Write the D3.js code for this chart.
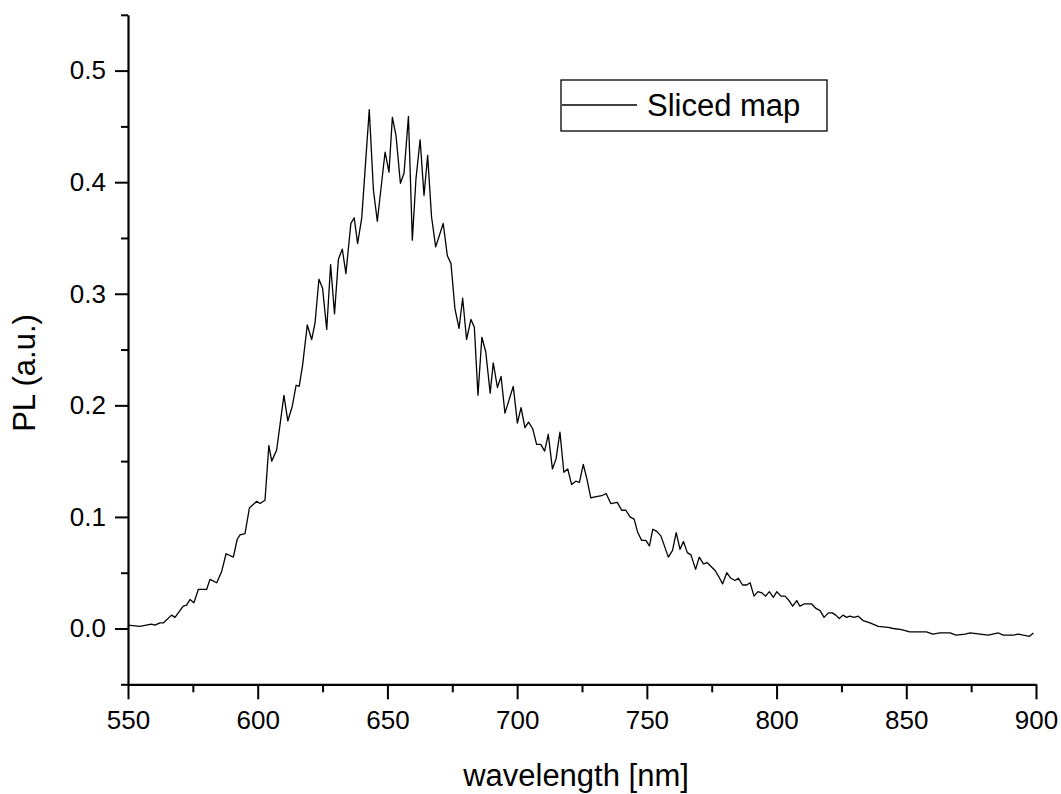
<!DOCTYPE html>
<html>
<head>
<meta charset="utf-8">
<script src="https://cdn.jsdelivr.net/npm/d3@7"></script>
<style>
  html, body { margin: 0; padding: 0; background: #fff; }
  svg { display: block; }
  text { font-family: "Liberation Sans", Arial, sans-serif; fill: #000; }
</style>
</head>
<body>
<script>
// ---- data ----
const wavelength = [
550.0,554.6,559.0,560.4,562.3,563.6,566.8,568.1,571.3,572.6,573.9,575.4,577.1,580.3,581.6,584.2,586.1,587.8,590.6,592.1,
593.2,595.1,596.8,599.6,600.9,602.8,604.3,605.4,607.3,610.1,611.6,613.3,614.8,616.0,617.3,619.1,620.8,622.1,623.6,625.0,
626.6,628.1,629.6,631.1,632.6,634.0,635.9,637.2,638.5,640.1,643.0,644.6,646.1,649.1,650.6,651.9,653.3,655.0,656.4,658.1,
659.6,661.0,662.6,664.1,665.5,667.0,668.6,671.5,673.1,674.5,676.0,677.6,679.0,680.5,682.2,683.5,684.9,686.4,687.9,689.6,
690.8,692.4,693.8,695.3,698.5,700.1,701.5,703.0,704.4,706.0,707.5,709.1,710.6,712.0,713.6,715.0,716.5,718.0,719.5,721.0,
722.6,724.0,725.5,726.8,728.4,730.0,732.6,734.3,736.1,738.6,740.3,741.9,743.5,745.1,746.5,748.0,749.6,751.0,752.3,753.8,
755.4,758.3,759.9,761.3,762.8,764.1,765.6,767.0,768.8,770.2,771.8,773.3,776.3,777.6,779.2,780.8,782.4,784.0,785.3,786.9,
788.5,789.8,791.3,792.8,794.3,795.8,797.2,798.8,800.1,801.7,803.3,804.8,806.2,807.8,809.0,810.6,813.5,815.2,816.8,818.3,
820.0,821.5,822.8,824.2,825.6,827.0,828.3,829.8,831.5,833.4,836.0,839.2,843.0,845.0,848.2,851.3,857.8,860.2,863.0,866.9,
869.2,872.7,874.6,878.4,881.6,885.5,887.4,891.3,893.2,895.1,897.5,899.0
];
const pl = [
0.003,0.002,0.004,0.003,0.005,0.005,0.012,0.010,0.020,0.021,0.026,0.023,0.035,0.035,0.044,0.041,0.051,0.067,0.064,0.080,
0.084,0.085,0.108,0.114,0.112,0.115,0.164,0.150,0.160,0.209,0.186,0.199,0.218,0.217,0.236,0.272,0.259,0.274,0.313,0.305,
0.268,0.326,0.282,0.331,0.340,0.318,0.363,0.368,0.345,0.368,0.465,0.393,0.365,0.427,0.409,0.458,0.442,0.399,0.408,0.459,
0.348,0.403,0.438,0.388,0.424,0.369,0.342,0.363,0.334,0.327,0.287,0.269,0.296,0.259,0.277,0.270,0.209,0.261,0.248,0.211,
0.238,0.216,0.226,0.193,0.217,0.184,0.198,0.180,0.185,0.179,0.165,0.165,0.159,0.174,0.143,0.152,0.176,0.140,0.143,0.129,
0.132,0.131,0.147,0.135,0.117,0.118,0.119,0.121,0.112,0.113,0.106,0.106,0.100,0.098,0.086,0.079,0.079,0.074,0.089,0.087,
0.083,0.064,0.070,0.086,0.071,0.078,0.068,0.066,0.053,0.064,0.058,0.059,0.052,0.047,0.040,0.050,0.045,0.043,0.045,0.039,
0.039,0.041,0.029,0.033,0.032,0.029,0.033,0.028,0.033,0.029,0.029,0.025,0.020,0.025,0.020,0.022,0.022,0.018,0.016,0.010,
0.014,0.014,0.012,0.009,0.012,0.010,0.011,0.010,0.011,0.007,0.005,0.002,0.001,0.000,-0.001,-0.003,-0.003,-0.005,-0.004,-0.004,
-0.006,-0.005,-0.004,-0.005,-0.006,-0.004,-0.006,-0.006,-0.005,-0.006,-0.007,-0.004
];
const xMajorTicks = [550, 600, 650, 700, 750, 800, 850, 900];
const xMinorTicks = [575, 625, 675, 725, 775, 825, 875];
const yMajorTicks = [0.0, 0.1, 0.2, 0.3, 0.4, 0.5];
const yMinorTicks = [-0.05, 0.05, 0.15, 0.25, 0.35, 0.45, 0.55];
const seriesName = "Sliced map";
const xTitle = "wavelength [nm]";
const yTitle = "PL (a.u.)";

// ---- layout ----
const W = 1061, H = 794;
const mLeft = 128, mRight = 1036, mTop = 14.8, mBottom = 684.3;

const svg = d3.select("body").append("svg").attr("width", W).attr("height", H);

const x = d3.scaleLinear().domain([550, 900]).range([mLeft, mRight]);
const y = d3.scaleLinear().domain([-0.05, 0.55]).range([mBottom, mTop]);

// data line
const line = d3.line().x((d, i) => x(wavelength[i])).y(d => y(d));
svg.append("path")
  .datum(pl)
  .attr("d", line)
  .attr("fill", "none")
  .attr("stroke", "#000")
  .attr("stroke-width", 1.3)
  .attr("stroke-linejoin", "round");

// x axis
const gx = svg.append("g").attr("transform", `translate(0,${mBottom})`);
gx.call(d3.axisBottom(x).tickValues(xMinorTicks).tickSize(8).tickSizeOuter(0).tickFormat(""));
gx.selectAll(".tick line").attr("stroke-width", 2);
gx.select(".domain").attr("stroke-width", 2.2);
const gx2 = svg.append("g").attr("transform", `translate(0,${mBottom})`);
gx2.call(d3.axisBottom(x).tickValues(xMajorTicks).tickSize(15).tickSizeOuter(0).tickPadding(11)
  .tickFormat(d3.format("d")));
gx2.selectAll(".tick line").attr("stroke-width", 2);
gx2.selectAll(".tick text").attr("font-size", 26).attr("font-family", "Liberation Sans, Arial, sans-serif");
gx2.select(".domain").remove();

// y axis
const gy = svg.append("g").attr("transform", `translate(${mLeft},0)`);
gy.call(d3.axisLeft(y).tickValues(yMinorTicks).tickSize(7).tickSizeOuter(0).tickFormat(""));
gy.selectAll(".tick line").attr("stroke-width", 2);
gy.select(".domain").attr("stroke-width", 2.2);
const gy2 = svg.append("g").attr("transform", `translate(${mLeft},0)`);
gy2.call(d3.axisLeft(y).tickValues(yMajorTicks).tickSize(13).tickSizeOuter(0).tickPadding(9)
  .tickFormat(d3.format(".1f")));
gy2.selectAll(".tick line").attr("stroke-width", 2);
gy2.selectAll(".tick text").attr("font-size", 26).attr("font-family", "Liberation Sans, Arial, sans-serif");
gy2.select(".domain").remove();

// axis titles
svg.append("text")
  .attr("x", 576).attr("y", 786)
  .attr("text-anchor", "middle")
  .attr("font-size", 31)
  .text(xTitle);
svg.append("text")
  .attr("transform", `translate(35,373) rotate(-90)`)
  .attr("text-anchor", "middle")
  .attr("font-size", 31)
  .text(yTitle);

// legend
const lg = svg.append("g");
lg.append("rect")
  .attr("x", 561).attr("y", 80).attr("width", 266).attr("height", 51)
  .attr("fill", "#fff").attr("stroke", "#000").attr("stroke-width", 1.3);
lg.append("line")
  .attr("x1", 562).attr("x2", 637).attr("y1", 105).attr("y2", 105)
  .attr("stroke", "#000").attr("stroke-width", 1.3);
lg.append("text")
  .attr("x", 647).attr("y", 116)
  .attr("font-size", 31)
  .text(seriesName);
</script>
</body>
</html>
